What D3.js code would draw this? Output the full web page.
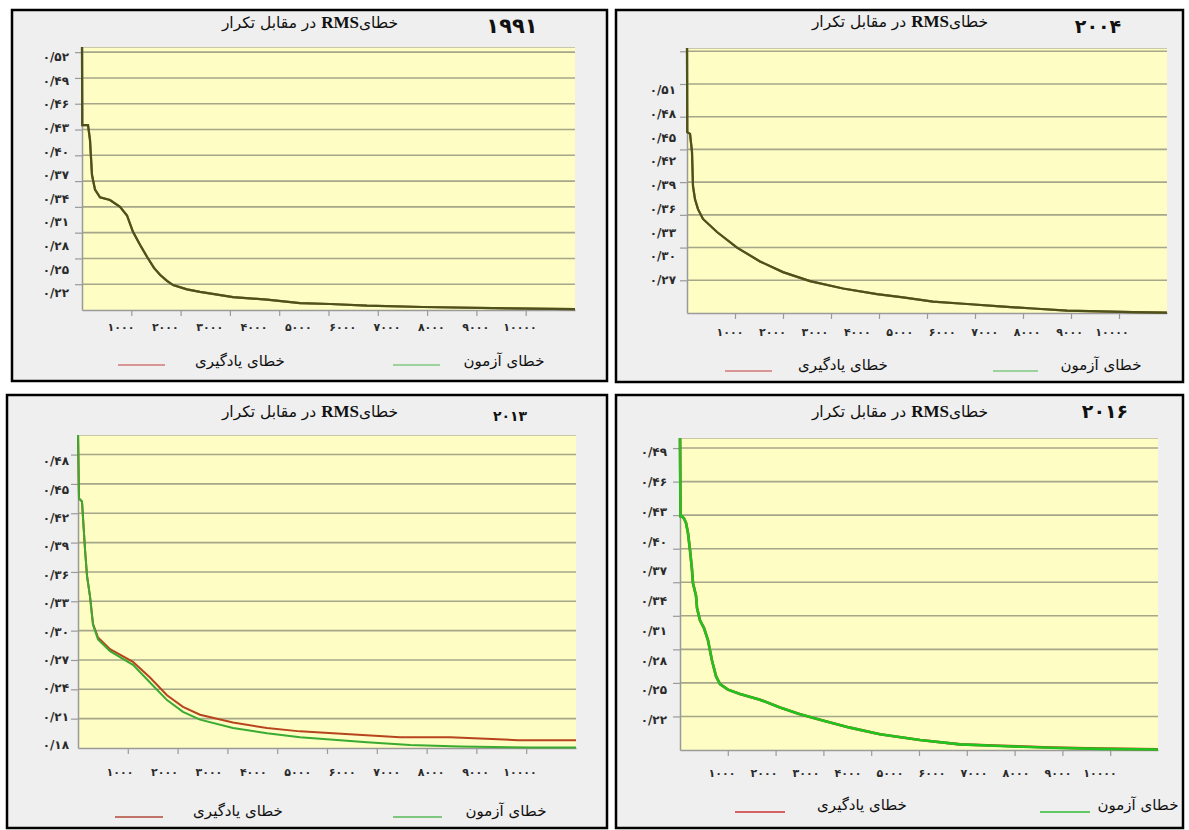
<!DOCTYPE html>
<html>
<head>
<meta charset="utf-8">
<script src="https://cdn.jsdelivr.net/npm/d3@7"></script>
<style>
  body { margin: 0; background: #fff; }
  svg { display: block; }
</style>
</head>
<body>
<svg id="chart" width="1189" height="830"></svg>
<script>
'use strict';

// ---- data ----
const years = [1991, 2004, 2013, 2016];
const titleStart = 'خطای';
const titleRms = 'RMS';
const titleEnd = ' در مقابل تکرار';
const trainName = 'خطای یادگیری';
const testName = 'خطای آزمون';

// iteration axis (shared)
const iterTicks = [1000, 2000, 3000, 4000, 5000, 6000, 7000, 8000, 9000];
const iterLabels = [1000, 2000, 3000, 4000, 5000, 6000, 7000, 8000, 9000, 10000];

// 1991
const yLabels1991 = [0.52, 0.49, 0.46, 0.43, 0.40, 0.37, 0.34, 0.31, 0.28, 0.25, 0.22];
const yGrid1991 = [0.25, 0.28, 0.31, 0.34, 0.37, 0.40, 0.43, 0.46, 0.49, 0.52];
const test1991 = [
  [0, 0.526], [5, 0.435], [122, 0.435], [162, 0.418], [203, 0.377], [264, 0.360],
  [365, 0.351], [568, 0.348], [771, 0.340], [913, 0.330], [1034, 0.311], [1176, 0.296],
  [1318, 0.282], [1460, 0.269], [1582, 0.261], [1724, 0.254], [1846, 0.249], [2130, 0.244],
  [2394, 0.241], [3063, 0.235], [3753, 0.232], [4422, 0.228], [5030, 0.227], [5781, 0.225],
  [6917, 0.2235], [8682, 0.222], [10000, 0.221]
];
const train1991 = test1991; // both curves coincide

// 2004
const yLabels2004 = [0.51, 0.48, 0.45, 0.42, 0.39, 0.36, 0.33, 0.30, 0.27];
const yGrid2004 = [0.27, 0.31, 0.35, 0.39, 0.43, 0.47, 0.51, 0.55];
const test2004 = [
  [0, 0.554], [5, 0.451], [63, 0.449], [104, 0.427], [125, 0.385], [167, 0.369],
  [229, 0.357], [333, 0.345], [625, 0.329], [1042, 0.310], [1521, 0.293], [2000, 0.280],
  [2563, 0.269], [3250, 0.260], [3958, 0.253], [4500, 0.249], [5125, 0.244], [5833, 0.241],
  [6521, 0.238], [7208, 0.2355], [7917, 0.233], [8604, 0.232], [9292, 0.231], [10000, 0.2305]
];
const train2004 = test2004; // both curves coincide

// 2013
const yLabels2013 = [0.48, 0.45, 0.42, 0.39, 0.36, 0.33, 0.30, 0.27, 0.24, 0.21, 0.18];
const yGrid2013 = [0.21, 0.24, 0.27, 0.30, 0.33, 0.36, 0.39, 0.42, 0.45, 0.48];
const test2013 = [
  [0, 0.500], [20, 0.435], [80, 0.432], [141, 0.383], [181, 0.356], [241, 0.335],
  [301, 0.306], [402, 0.291], [643, 0.279], [1104, 0.265], [1446, 0.247], [1787, 0.229],
  [2108, 0.217], [2450, 0.209], [3112, 0.2005], [3795, 0.195], [4458, 0.191], [5803, 0.186],
  [6667, 0.183], [7671, 0.1815], [9076, 0.1805], [10000, 0.1805]
];
const train2013 = [
  [0, 0.500], [20, 0.435], [80, 0.432], [141, 0.383], [181, 0.356], [241, 0.335],
  [301, 0.307], [402, 0.293], [643, 0.281], [1104, 0.268], [1446, 0.252], [1787, 0.234],
  [2108, 0.222], [2450, 0.214], [3112, 0.206], [3795, 0.2005], [4458, 0.197], [5120, 0.195],
  [6466, 0.191], [7470, 0.191], [8835, 0.188], [10000, 0.188]
];

// 2016
const yLabels2016 = [0.49, 0.46, 0.43, 0.40, 0.37, 0.34, 0.31, 0.28, 0.25, 0.22];
const yGrid2016 = [0.25, 0.28, 0.31, 0.34, 0.37, 0.40, 0.43, 0.46, 0.49];
const test2016 = [
  [0, 0.499], [10, 0.429], [42, 0.429], [84, 0.427], [126, 0.423], [167, 0.414],
  [209, 0.399], [251, 0.381], [272, 0.369], [335, 0.358], [356, 0.347], [418, 0.336],
  [502, 0.329], [586, 0.318], [669, 0.300], [753, 0.286], [837, 0.279], [1004, 0.274],
  [1255, 0.270], [1674, 0.265], [2092, 0.258], [2510, 0.252], [2929, 0.247], [3556, 0.240],
  [4184, 0.234], [5021, 0.229], [5858, 0.225], [6695, 0.2236], [7741, 0.222], [8787, 0.221],
  [10000, 0.2205]
];
const train2016 = [
  [0, 0.499], [10, 0.429], [42, 0.429], [84, 0.427], [126, 0.423], [167, 0.414],
  [209, 0.399], [251, 0.381], [272, 0.369], [335, 0.358], [356, 0.347], [418, 0.336],
  [502, 0.329], [586, 0.318], [669, 0.300], [753, 0.286], [837, 0.279], [1004, 0.274],
  [1255, 0.270], [1674, 0.265], [2092, 0.258], [2510, 0.252], [2929, 0.247], [3556, 0.240],
  [4184, 0.234], [5021, 0.229], [5858, 0.225], [6695, 0.2238], [7741, 0.2222], [8787, 0.2212],
  [10000, 0.2207]
];

// ---- helpers ----
const faDigits = s => String(s).replace(/\d/g, d => '۰۱۲۳۴۵۶۷۸۹'[d]);
const yFmt = v => faDigits(d3.format('.2f')(v)).replace('.', '/');
const FA = "'DejaVu Sans', sans-serif";

// ---- layout of each chart window ----
const panels = [
  {
    year: years[0], yearX: 512, yearY: 33, yearSize: 21,
    frame: [12, 10, 607, 381], plot: [82, 47, 575, 310], yDomain: [0.22, 0.526],
    grid: yGrid1991, labels: yLabels1991, yLab: [57, 293], yLabX: 69,
    xLab: [121, 520], xLabY: 331, titleX: 310, titleY: 28,
    legY: 365, legTextY: 366, trainLine: [118, 165], trainText: 240, testLine: [393, 440], testText: 504,
    train: train1991, test: test1991,
    trainColor: '#7a3a18', testColor: '#3a5c1c', testOpacity: 0.72, width: 2.2,
    legTrain: '#d07878', legTest: '#80c880'
  },
  {
    year: years[1], yearX: 1098, yearY: 33, yearSize: 19,
    frame: [616, 10, 1183, 382], plot: [687, 48, 1167, 313], yDomain: [0.23, 0.554],
    grid: yGrid2004, labels: yLabels2004, yLab: [90, 280], yLabX: 676,
    xLab: [730, 1112], xLabY: 336, titleX: 900, titleY: 27,
    legY: 371, legTextY: 370, trainLine: [725, 772], trainText: 843, testLine: [993, 1038], testText: 1101,
    train: train2004, test: test2004,
    trainColor: '#7a3a18', testColor: '#3a5c1c', testOpacity: 0.72, width: 2.2,
    legTrain: '#d07878', legTest: '#80c880'
  },
  {
    year: years[2], yearX: 510, yearY: 421, yearSize: 14,
    frame: [7, 395, 607, 828], plot: [78, 435, 576, 748], yDomain: [0.18, 0.50],
    grid: yGrid2013, labels: yLabels2013, yLab: [461, 745], yLabX: 69,
    xLab: [120, 520], xLabY: 776, titleX: 310, titleY: 417,
    legY: 817, legTextY: 816, trainLine: [115, 163], trainText: 238, testLine: [393, 442], testText: 506,
    train: train2013, test: test2013,
    trainColor: '#b8441e', testColor: '#3aaa30', testOpacity: 1, width: 2,
    legTrain: '#b04a3a', legTest: '#5ab85a'
  },
  {
    year: years[3], yearX: 1105, yearY: 418, yearSize: 19,
    frame: [616, 395, 1183, 828], plot: [680, 438, 1158, 750], yDomain: [0.22, 0.499],
    grid: yGrid2016, labels: yLabels2016, yLab: [452, 720], yLabX: 667,
    xLab: [722, 1100], xLabY: 777, titleX: 900, titleY: 417,
    legY: 812, legTextY: 810, trainLine: [735, 785], trainText: 862, testLine: [1040, 1090], testText: 1138,
    train: train2016, test: test2016,
    trainColor: '#e02020', testColor: '#1fc41f', testOpacity: 1, width: 2.6,
    legTrain: '#cc3333', legTest: '#33bb33'
  }
];

const svg = d3.select('#chart');

// drawPanel: one chart window with frame, plot, grid, axes, curves and legend
const drawPanel = function (p) {
  const g = svg.append('g');
  const [fx0, fy0, fx1, fy1] = p.frame;
  g.append('rect')
    .attr('x', fx0).attr('y', fy0)
    .attr('width', fx1 - fx0).attr('height', fy1 - fy0)
    .attr('fill', '#efefef').attr('stroke', '#000').attr('stroke-width', 2.5);

  const [px0, py0, px1, py1] = p.plot;
  const x = d3.scaleLinear().domain([0, 10000]).range([px0, px1]);
  const y = d3.scaleLinear().domain(p.yDomain).range([py1, py0]);

  // plot background
  g.append('rect')
    .attr('x', px0).attr('y', py0)
    .attr('width', px1 - px0).attr('height', py1 - py0)
    .attr('fill', '#fdfdc4');
  g.append('line')
    .attr('x1', px0).attr('x2', px1).attr('y1', py0 + 0.5).attr('y2', py0 + 0.5)
    .attr('stroke', '#c8c8a8');

  // horizontal grid
  g.selectAll('line.grid')
    .data(p.grid)
    .join('line')
    .attr('class', 'grid')
    .attr('x1', px0).attr('x2', px1)
    .attr('y1', d => y(d)).attr('y2', d => y(d))
    .attr('stroke', '#a6a68a').attr('stroke-width', 1.6);

  // axes (tick marks only, labels drawn separately)
  const ax = g.append('g')
    .attr('transform', `translate(0,${py1})`)
    .call(d3.axisBottom(x).tickValues(iterTicks).tickFormat('').tickSize(6).tickSizeOuter(0));
  const ay = g.append('g')
    .attr('transform', `translate(${px0},0)`)
    .call(d3.axisLeft(y).tickValues(p.grid).tickFormat('').tickSize(7).tickSizeOuter(0));
  [ax, ay].forEach(a => {
    a.select('.domain').attr('stroke', '#9a9a9a').attr('stroke-width', 1.5);
    a.selectAll('.tick line').attr('stroke', '#9a9a9a').attr('stroke-width', 1.2);
  });

  // tick labels
  const yl = d3.scalePoint().domain(p.labels).range(p.yLab);
  g.selectAll('text.ylab')
    .data(p.labels)
    .join('text')
    .attr('class', 'ylab')
    .attr('x', p.yLabX).attr('y', d => yl(d))
    .attr('dy', '0.35em')
    .attr('text-anchor', 'end')
    .attr('direction', 'ltr')
    .style('font-family', FA).style('font-size', '12px').style('font-weight', 'bold').style('fill', '#2a2a2a')
    .text(d => yFmt(d));
  const xl = d3.scalePoint().domain(iterLabels).range(p.xLab);
  g.selectAll('text.xlab')
    .data(iterLabels)
    .join('text')
    .attr('class', 'xlab')
    .attr('x', d => xl(d)).attr('y', p.xLabY)
    .attr('text-anchor', 'middle')
    .attr('direction', 'ltr')
    .style('font-family', FA).style('font-size', '11px').style('font-weight', 'bold').style('fill', '#2a2a2a')
    .text(d => faDigits(d));

  // curves
  const line = d3.line().x(d => x(d[0])).y(d => y(d[1]));
  g.append('path')
    .attr('d', line(p.train))
    .attr('fill', 'none').attr('stroke', p.trainColor).attr('stroke-width', p.width);
  g.append('path')
    .attr('d', line(p.test))
    .attr('fill', 'none').attr('stroke', p.testColor).attr('stroke-width', p.width)
    .attr('stroke-opacity', p.testOpacity);

  // title and year
  const t = g.append('text')
    .attr('x', p.titleX).attr('y', p.titleY)
    .attr('text-anchor', 'middle')
    .attr('direction', 'rtl')
    .style('font-family', FA).style('font-size', '15.5px').style('fill', '#111');
  t.append('tspan').text(titleStart);
  t.append('tspan')
    .style('font-family', "'Liberation Serif', serif").style('font-weight', 'bold').style('font-size', '17px')
    .text(titleRms);
  t.append('tspan').text(titleEnd);
  g.append('text')
    .attr('x', p.yearX).attr('y', p.yearY)
    .attr('text-anchor', 'middle')
    .style('font-family', FA).style('font-weight', 'bold')
    .style('font-size', p.yearSize + 'px').style('fill', '#111')
    .text(faDigits(p.year));

  // legend
  const leg = [
    { name: trainName, line: p.trainLine, tx: p.trainText, color: p.legTrain },
    { name: testName, line: p.testLine, tx: p.testText, color: p.legTest }
  ];
  g.selectAll('line.leg')
    .data(leg)
    .join('line')
    .attr('class', 'leg')
    .attr('x1', d => d.line[0]).attr('x2', d => d.line[1])
    .attr('y1', p.legY).attr('y2', p.legY)
    .attr('stroke', d => d.color).attr('stroke-width', 1.5);
  g.selectAll('text.leg')
    .data(leg)
    .join('text')
    .attr('class', 'leg')
    .attr('x', d => d.tx).attr('y', p.legTextY)
    .attr('text-anchor', 'middle')
    .attr('direction', 'rtl')
    .style('font-family', FA).style('font-size', '15px').style('fill', '#111')
    .text(d => d.name);
};

panels.forEach(drawPanel);
</script>
</body>
</html>
